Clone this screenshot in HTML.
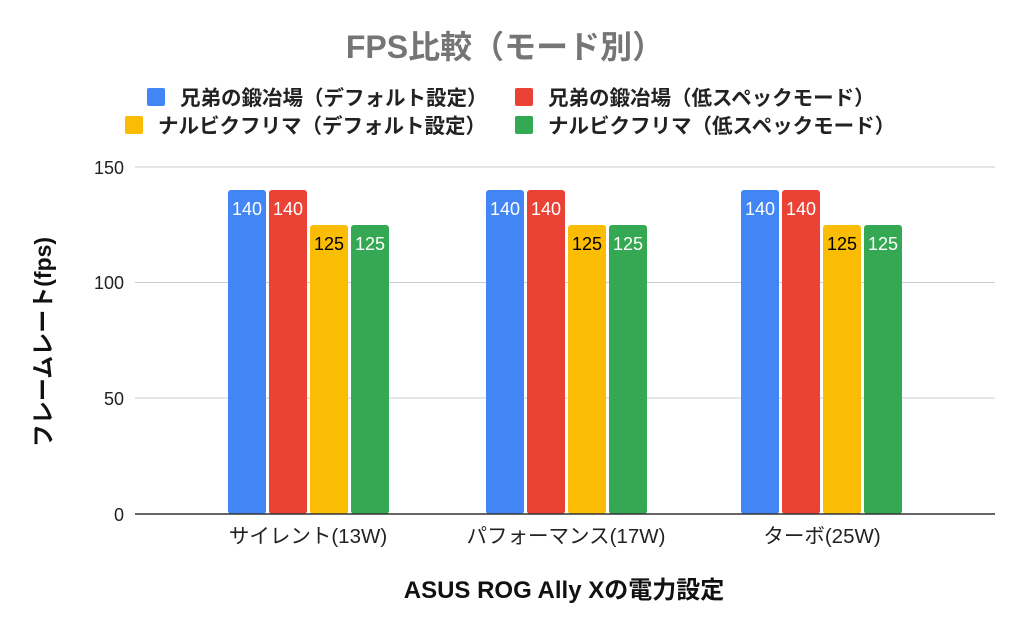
<!DOCTYPE html>
<html><head><meta charset="utf-8"><style>
body{margin:0;background:#fff;}
svg text{font-family:"Liberation Sans","Noto Sans CJK JP",sans-serif;}
</style></head><body>
<svg width="1024" height="631" xmlns="http://www.w3.org/2000/svg">
<rect width="1024" height="631" fill="#fff"/>
<text x="505" y="58" text-anchor="middle" font-size="32" font-weight="bold" fill="#757575">FPS比較（モード別）</text>
<rect x="147" y="88" width="18" height="18" rx="2" fill="#4285F4"/>
<text x="180" y="105" font-size="20.5" font-weight="bold" fill="#222">兄弟の鍛冶場（デフォルト設定）</text>
<rect x="515" y="88" width="18" height="18" rx="2" fill="#EA4335"/>
<text x="548" y="105" font-size="20.5" font-weight="bold" fill="#222">兄弟の鍛冶場（低スペックモード）</text>
<rect x="125" y="116" width="18" height="18" rx="2" fill="#FBBC04"/>
<text x="158" y="133" font-size="20.5" font-weight="bold" fill="#222">ナルビクフリマ（デフォルト設定）</text>
<rect x="515" y="116" width="18" height="18" rx="2" fill="#34A853"/>
<text x="548" y="133" font-size="20.5" font-weight="bold" fill="#222">ナルビクフリマ（低スペックモード）</text>
<g stroke="#ccc" stroke-width="1">
<line x1="135" y1="167" x2="995" y2="167"/>
<line x1="135" y1="282.5" x2="995" y2="282.5"/>
<line x1="135" y1="398" x2="995" y2="398"/>
</g>
<g font-size="18" fill="#222" text-anchor="end">
<text x="124" y="174">150</text>
<text x="124" y="289">100</text>
<text x="124" y="405">50</text>
<text x="124" y="521">0</text>
</g>
<g>
<rect x="228" y="190" width="38" height="324" rx="3" fill="#4285F4"/>
<rect x="269" y="190" width="38" height="324" rx="3" fill="#EA4335"/>
<rect x="310" y="225" width="38" height="289" rx="3" fill="#FBBC04"/>
<rect x="351" y="225" width="38" height="289" rx="3" fill="#34A853"/>
<rect x="486" y="190" width="38" height="324" rx="3" fill="#4285F4"/>
<rect x="527" y="190" width="38" height="324" rx="3" fill="#EA4335"/>
<rect x="568" y="225" width="38" height="289" rx="3" fill="#FBBC04"/>
<rect x="609" y="225" width="38" height="289" rx="3" fill="#34A853"/>
<rect x="741" y="190" width="38" height="324" rx="3" fill="#4285F4"/>
<rect x="782" y="190" width="38" height="324" rx="3" fill="#EA4335"/>
<rect x="823" y="225" width="38" height="289" rx="3" fill="#FBBC04"/>
<rect x="864" y="225" width="38" height="289" rx="3" fill="#34A853"/>
</g>
<g font-size="18" text-anchor="middle">
<text x="247" y="215" fill="#fff">140</text><text x="288" y="215" fill="#fff">140</text>
<text x="329" y="250" fill="#000">125</text><text x="370" y="250" fill="#fff">125</text>
<text x="505" y="215" fill="#fff">140</text><text x="546" y="215" fill="#fff">140</text>
<text x="587" y="250" fill="#000">125</text><text x="628" y="250" fill="#fff">125</text>
<text x="760" y="215" fill="#fff">140</text><text x="801" y="215" fill="#fff">140</text>
<text x="842" y="250" fill="#000">125</text><text x="883" y="250" fill="#fff">125</text>
</g>
<line x1="135" y1="514" x2="995" y2="514" stroke="#333" stroke-width="1.5"/>
<g font-size="20.5" fill="#222" text-anchor="middle">
<text x="308" y="543">サイレント(13W)</text>
<text x="566" y="543">パフォーマンス(17W)</text>
<text x="822" y="543">ターボ(25W)</text>
</g>
<text x="564" y="598" text-anchor="middle" font-size="24" font-weight="bold" fill="#111">ASUS ROG Ally Xの電力設定</text>
<text transform="translate(51,342) rotate(-90)" text-anchor="middle" font-size="23" font-weight="bold" fill="#111">フレームレート(fps)</text>
</svg>
</body></html>
